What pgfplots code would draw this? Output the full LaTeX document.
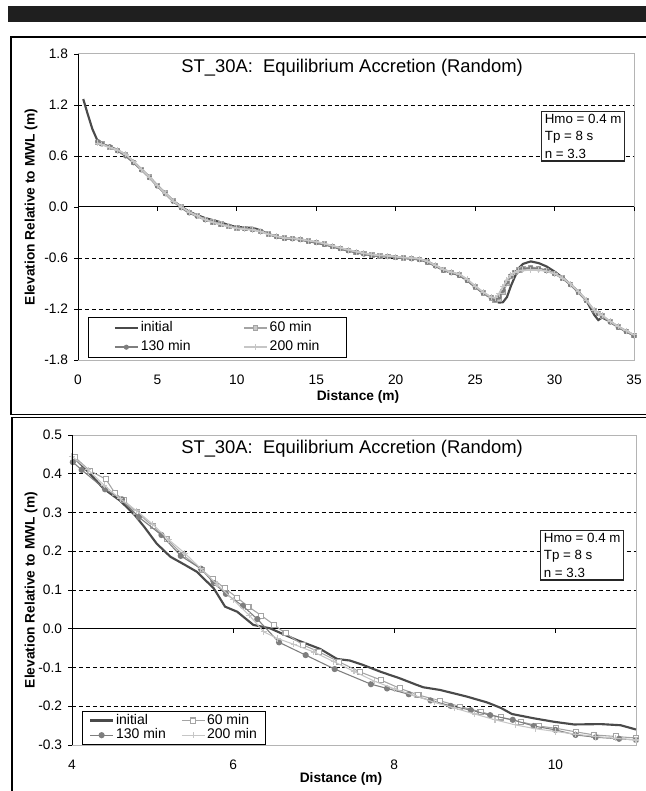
\documentclass[border=0pt]{standalone}
\usepackage{pgfplots}
\pgfplotsset{compat=1.18}
\usepackage{pgfplotstable}
\usepackage{fontspec}
\setmainfont{Liberation Sans}

\definecolor{cInit}{HTML}{4A4A4A}
\definecolor{c60}{HTML}{A4A4A4}
\definecolor{c130}{HTML}{7E7E7E}
\definecolor{c200}{HTML}{C6C6C6}
\definecolor{cBox}{HTML}{B4B4B4}

% top panel: whole profile
\pgfplotstableread{
x     init    m60     m130    m200
0.33  1.27    nan     nan     nan
0.6   1.10    nan     nan     nan
0.9   0.92    nan     nan     nan
1.25  0.77    0.76    0.77    0.75
1.5   0.74    0.745   0.74    0.735
2.0   0.71    0.705   0.71    0.70
2.5   0.67    0.665   0.66    0.67
3.0   0.61    0.615   0.60    0.62
3.5   0.53    0.525   0.52    0.535
4.0   0.44    0.445   0.435   0.44
4.5   0.35    0.355   0.345   0.35
5.0   0.25    0.255   0.245   0.25
5.5   0.16    0.165   0.155   0.16
6.0   0.07    0.075   0.065   0.07
6.5   0.005   0.00    -0.01   0.00
7.0   -0.055  -0.06   -0.07   -0.06
7.5   -0.095  -0.10   -0.11   -0.105
8.0   -0.13   -0.145  -0.15   -0.15
8.5   -0.155  -0.175  -0.18   -0.18
9.0   -0.18   -0.20   -0.205  -0.205
9.5   -0.215  -0.225  -0.225  -0.23
10.0  -0.235  -0.245  -0.245  -0.25
10.5  -0.24   -0.255  -0.255  -0.26
11.0  -0.245  -0.265  -0.265  -0.27
11.5  -0.275  -0.285  -0.285  -0.29
12.0  -0.32   -0.315  -0.32   -0.32
12.5  -0.35   -0.345  -0.35   -0.345
13.0  -0.37   -0.365  -0.37   -0.365
13.5  -0.37   -0.37   -0.375  -0.37
14.0  -0.38   -0.385  -0.385  -0.38
14.5  -0.40   -0.40   -0.405  -0.395
15.0  -0.42   -0.415  -0.42   -0.41
15.5  -0.44   -0.435  -0.44   -0.43
16.0  -0.46   -0.46   -0.465  -0.455
16.5  -0.49   -0.485  -0.49   -0.48
17.0  -0.51   -0.51   -0.515  -0.505
17.5  -0.53   -0.53   -0.535  -0.525
18.0  -0.55   -0.55   -0.555  -0.545
18.5  -0.565  -0.565  -0.57   -0.56
19.0  -0.575  -0.575  -0.58   -0.57
19.5  -0.58   -0.58   -0.585  -0.575
20.0  -0.59   -0.59   -0.595  -0.585
20.5  -0.60   -0.60   -0.60   -0.595
21.0  -0.605  -0.605  -0.61   -0.60
21.5  -0.615  -0.615  -0.62   -0.61
22.0  -0.64   -0.645  -0.65   -0.64
22.5  -0.69   -0.69   -0.695  -0.685
23.0  -0.74   -0.74   -0.745  -0.735
23.5  -0.77   -0.77   -0.775  -0.765
24.0  -0.80   -0.80   -0.805  -0.79
24.5  -0.86   -0.86   -0.865  -0.85
25.0  -0.94   -0.94   -0.94   -0.93
25.5  -1.01   -1.01   -1.01   -1.00
26.0  -1.07   -1.07   -1.065  -1.06
26.25 -1.10   -1.10   -1.09   -1.07
26.5  -1.125  -1.08   -1.06   -1.02
26.75 -1.12   -1.00   -0.98   -0.94
27.0  -1.06   -0.90   -0.88   -0.86
27.25 -0.93   -0.82   -0.81   -0.80
27.5  -0.82   -0.77   -0.77   -0.77
27.75 -0.72   -0.74   -0.745  -0.75
28.0  -0.67   -0.72   -0.73   -0.745
28.5  -0.64   -0.71   -0.72   -0.74
29.0  -0.66   -0.72   -0.73   -0.74
29.5  -0.70   -0.745  -0.75   -0.755
30.0  -0.76   -0.78   -0.785  -0.785
30.5  -0.83   -0.835  -0.84   -0.835
31.0  -0.91   -0.91   -0.915  -0.905
31.5  -1.00   -1.00   -1.005  -0.995
32.0  -1.10   -1.10   -1.10   -1.095
32.5  -1.27   -1.22   -1.225  -1.215
32.75 -1.33   -1.25   -1.255  -1.245
33.0  -1.30   -1.28   -1.285  -1.275
33.5  -1.35   -1.35   -1.355  -1.345
34.0  -1.41   -1.41   -1.415  -1.405
34.5  -1.46   -1.46   -1.465  -1.455
35.0  -1.51   -1.51   -1.515  -1.505
}\toptab

% bottom panel: detail 4-11 m
\pgfplotstableread{
x     y
4.0   0.448
4.2   0.405
4.39  0.362
4.6   0.33
4.78  0.293
4.9   0.262
5.05  0.22
5.22  0.186
5.4   0.165
5.55  0.147
5.76  0.104
5.90  0.057
6.05  0.044
6.25  0.01
6.46  0.001
6.6   -0.012
6.79  -0.029
7.08  -0.052
7.29  -0.078
7.45  -0.082
7.62  -0.094
7.83  -0.111
8.07  -0.128
8.28  -0.145
8.36  -0.151
8.57  -0.158
8.90  -0.175
9.15  -0.19
9.32  -0.204
9.46  -0.22
9.73  -0.231
9.98  -0.24
10.23 -0.247
10.56 -0.246
10.81 -0.249
11.0  -0.26
}\binit

\pgfplotstableread{
x     y
4.04  0.442
4.22  0.408
4.42  0.386
4.53  0.351
4.64  0.332
4.80  0.302
5.0   0.265
5.18  0.231
5.38  0.19
5.61  0.152
5.75  0.128
5.90  0.104
6.05  0.08
6.19  0.057
6.35  0.034
6.51  0.01
6.65  -0.012
6.87  -0.042
7.06  -0.059
7.31  -0.085
7.57  -0.111
7.83  -0.132
8.07  -0.154
8.30  -0.171
8.57  -0.186
8.82  -0.201
9.07  -0.214
9.32  -0.229
9.57  -0.24
9.79  -0.251
10.01 -0.257
10.25 -0.266
10.48 -0.274
10.75 -0.278
11.0  -0.282
}\bsixty

\pgfplotstableread{
x     y
4.01  0.43
4.12  0.41
4.41  0.36
4.62  0.334
4.83  0.288
5.11  0.242
5.35  0.188
5.60  0.155
5.76  0.118
5.91  0.090
6.12  0.059
6.30  0.025
6.57  -0.035
6.90  -0.068
7.26  -0.104
7.71  -0.143
7.91  -0.154
8.18  -0.169
8.45  -0.185
8.70  -0.199
8.95  -0.21
9.19  -0.223
9.47  -0.235
9.73  -0.251
10.0  -0.261
10.25 -0.274
10.50 -0.28
10.79 -0.284
11.0  -0.287
}\bonethirty

\pgfplotstableread{
x     y
4.0   0.445
4.2   0.41
4.4   0.37
4.6   0.335
4.8   0.305
5.0   0.27
5.2   0.23
5.4   0.195
5.6   0.155
5.8   0.115
6.0   0.075
6.2   0.035
6.38  -0.008
6.55  -0.025
6.75  -0.04
7.0   -0.06
7.25  -0.085
7.5   -0.11
7.75  -0.135
8.0   -0.155
8.25  -0.172
8.5   -0.19
8.75  -0.205
9.0   -0.22
9.25  -0.235
9.5   -0.248
9.75  -0.258
10.0  -0.265
10.25 -0.272
10.5  -0.278
10.75 -0.283
11.0  -0.287
}\btwohundred

\pgfplotsset{
  excel/.style={
    scale only axis,
    clip mode=individual,
    axis line style={draw=cBox, line width=0.75pt},
    ytick pos=left,
    xtick pos=bottom,
    tick align=outside,
    major tick length=3pt,
    ytick style={black, line width=0.6pt},
    xtick style={draw=none},
    tick label style={font=\fontsize{10.3}{12}\selectfont},
    yticklabel style={xshift=-1pt},
    xticklabel style={yshift=-5pt},
    legend columns=2,
    legend cell align=left,
  },
}

\begin{document}
\begin{tikzpicture}
\useasboundingbox (0pt,0pt) rectangle (483.75pt,-593.25pt);
\begin{scope}[x=0.75pt,y=-0.75pt]
  \fill[black!88] (8,6) rectangle (650,22);
  \draw[black, line width=0.9pt] (11,37) rectangle (660,414.5);
  \draw[black, line width=0.9pt] (12,417.5) rectangle (660,800);
  \node[rotate=90, font=\bfseries\fontsize{10.3}{12}\selectfont] at (31,207) {Elevation Relative to MWL (m)};
  \node[rotate=90, font=\bfseries\fontsize{10.3}{12}\selectfont] at (31,590) {Elevation Relative to MWL (m)};
  \node[font=\bfseries\fontsize{10.3}{12}\selectfont] at (358,397) {Distance (m)};
  \node[font=\bfseries\fontsize{10.3}{12}\selectfont] at (341,779) {Distance (m)};
\end{scope}

% ---------------- top panel ----------------
\begin{axis}[excel,
  at={(58.5pt,-270pt)}, anchor=south west,
  width=417pt, height=229.5pt,
  xmin=0, xmax=35, ymin=-1.8, ymax=1.8,
  xtick={0,5,10,15,20,25,30,35},
  xticklabels={0,5,10,15,20,25,30,35},
  ytick={-1.8,-1.2,-0.6,0,0.6,1.2,1.8},
  yticklabels={-1.8,-1.2,-0.6,0.0,0.6,1.2,1.8},
  legend style={at={(0.018,0.1405)}, anchor=north west, draw=black, line width=0.8pt,
    fill=white, inner xsep=19pt, inner ysep=2.5pt, row sep=4pt,
    font=\fontsize{10.5}{12}\selectfont,
    nodes={inner xsep=1.5pt, inner ysep=0.5pt, text height=7.5pt, text depth=2pt},
    /tikz/every even column/.append style={column sep=38pt}},
]
\pgfplotsinvokeforeach{-1.2,-0.6,0.6,1.2}{
  \draw[black, line width=0.6pt, dash pattern=on 3.2pt off 2pt] (axis cs:0,#1) -- (axis cs:35,#1);
}
\draw[black, line width=0.75pt] (axis cs:0,0) -- (axis cs:35,0);
\pgfplotsinvokeforeach{5,10,15,20,25,30,35}{
  \draw[black, line width=0.6pt] (axis cs:#1,0) -- ++(0pt,-3pt);
}
\addplot[cInit, line width=1.6pt, no markers] table[x=x, y=init] {\toptab};
\addplot[c60, line width=1.3pt, mark=square*, mark size=1.6pt, mark options={fill=c60!60!white, line width=0.6pt}] table[x=x, y=m60] {\toptab};
\addplot[c130, line width=1.3pt, mark=*, mark size=1.6pt, mark options={line width=0.6pt}] table[x=x, y=m130] {\toptab};
\addplot[c200, line width=1.3pt, mark=+, mark size=2.2pt, mark options={line width=0.7pt}] table[x=x, y=m200] {\toptab};
\legend{initial, 60 min, 130 min, 200 min}
\draw[black, line width=0.75pt] (rel axis cs:0,0) -- (rel axis cs:0,1);
\node[font=\fontsize{13.8}{16}\selectfont] at (rel axis cs:0.493,0.954) {ST\_30A:\ \ Equilibrium Accretion (Random)};
\node[draw=black!85, line width=0.8pt, fill=white, anchor=north west, align=left,
  inner xsep=2.5pt, inner ysep=2pt, font=\fontsize{10}{13}\selectfont]
  at (rel axis cs:0.8327,0.8137) {Hmo = 0.4 m\\Tp = 8 s\\n = 3.3};
\end{axis}

% ---------------- bottom panel ----------------
\begin{axis}[excel,
  at={(54pt,-558.75pt)}, anchor=south west,
  width=423pt, height=232.5pt,
  xmin=4, xmax=11, ymin=-0.3, ymax=0.5,
  xtick={4,6,8,10},
  xticklabels={4,6,\raisebox{6.5pt}{8},10},
  ytick={-0.3,-0.2,-0.1,0,0.1,0.2,0.3,0.4,0.5},
  yticklabels={-0.3,-0.2,-0.1,0.0,0.1,0.2,0.3,0.4,0.5},
  legend style={at={(0.0177,0.1097)}, anchor=north west, draw=black, line width=0.8pt,
    fill=white, inner xsep=5pt, inner ysep=1.5pt, row sep=0.5pt,
    font=\fontsize{10.5}{12}\selectfont,
    nodes={inner xsep=1.5pt, inner ysep=0.5pt, text height=7.5pt, text depth=2pt},
    /tikz/every even column/.append style={column sep=10pt}},
]
\pgfplotsinvokeforeach{-0.2,-0.1,0.1,0.2,0.3,0.4}{
  \draw[black, line width=0.6pt, dash pattern=on 3.2pt off 2pt] (axis cs:4,#1) -- (axis cs:11,#1);
}
\draw[black, line width=0.75pt] (axis cs:4,0) -- (axis cs:11,0);
\pgfplotsinvokeforeach{6,8,10}{
  \draw[black, line width=0.6pt] (axis cs:#1,0) -- ++(0pt,-3pt);
}
\addplot[cInit, line width=1.6pt, no markers] table[x=x, y=y] {\binit};
\addplot[c60, line width=0.8pt, mark=square*, mark size=1.9pt, mark options={fill=white}] table[x=x, y=y] {\bsixty};
\addplot[c130, line width=0.8pt, mark=*, mark size=1.9pt] table[x=x, y=y] {\bonethirty};
\addplot[c200, line width=0.8pt, mark=+, mark size=2.3pt] table[x=x, y=y] {\btwohundred};
\legend{initial, 60 min, 130 min, 200 min}
\draw[black, line width=0.75pt] (rel axis cs:0,0) -- (rel axis cs:0,1);
\node[font=\fontsize{13.8}{16}\selectfont] at (rel axis cs:0.4965,0.955) {ST\_30A:\ \ Equilibrium Accretion (Random)};
\node[draw=black!85, line width=0.8pt, fill=white, anchor=north west, align=left,
  inner xsep=2.5pt, inner ysep=2pt, font=\fontsize{10}{13}\selectfont]
  at (rel axis cs:0.8298,0.6935) {Hmo = 0.4 m\\Tp = 8 s\\n = 3.3};
\end{axis}
\end{tikzpicture}
\end{document}
